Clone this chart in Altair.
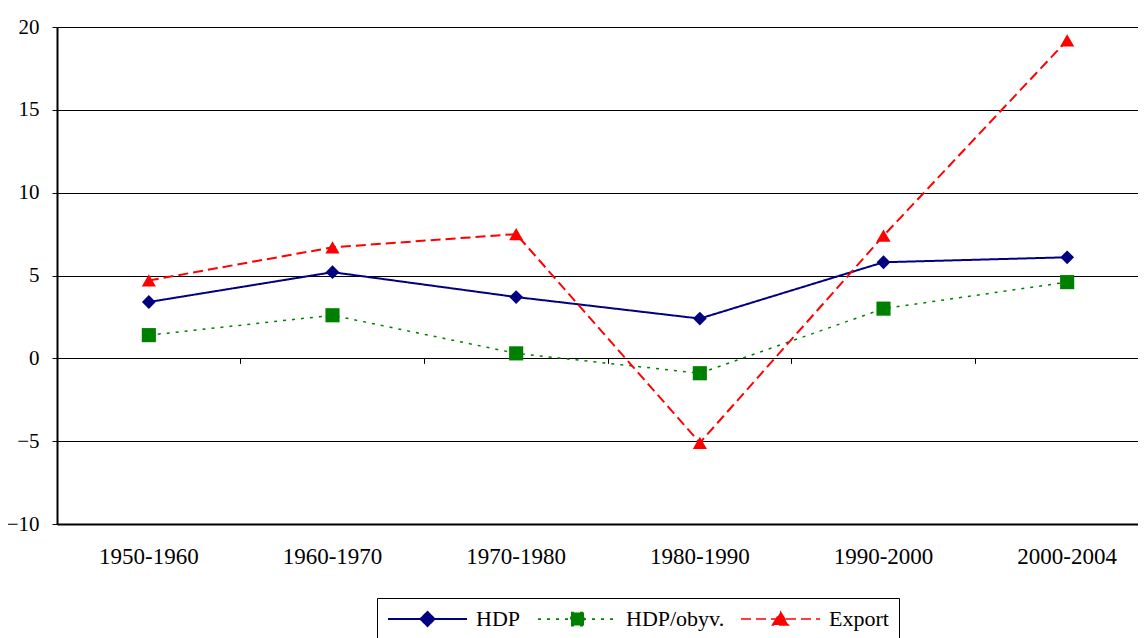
import altair as alt
import pandas as pd

periods = ["1950-1960", "1960-1970", "1970-1980", "1980-1990", "1990-2000", "2000-2004"]
series = ["HDP", "HDP/obyv.", "Export"]
hdp = [3.4, 5.2, 3.7, 2.4, 5.8, 6.1]
hdp_obyv = [1.4, 2.6, 0.3, -0.9, 3.0, 4.6]
export = [4.7, 6.7, 7.5, -5.1, 7.4, 19.2]
y_ticks = [-10, -5, 0, 5, 10, 15, 20]

colors = ["#000080", "#008000", "#FF0000"]
dashes = [[1, 0], [3, 6], [10, 5]]
widths = [2, 1.5, 2]
shapes = ["diamond", "square", "triangle-up"]
sizes = [190, 200, 200]
# legend symbols: a line 79px long with the marker in its middle (unit = 10px)
legend_paths = [
    "M-1,0H6.9M2.25,0L2.95,-0.7L3.65,0L2.95,0.7Z",
    "M-1,0H6.9M2.3,-0.65H3.6V0.65H2.3Z",
    "M-1,0H6.9M2.15,0.6L2.95,-0.7L3.75,0.6Z",
]

rows = []
for name, vals in zip(series, [hdp, hdp_obyv, export]):
    for p, v in zip(periods, vals):
        rows.append({"period": p, "series": name, "value": v})
df = pd.DataFrame(rows)

FONT = "Liberation Serif"
W, H = 1081, 497
FULL_W = 1102
x_scale = alt.Scale(type="band", paddingInner=0, paddingOuter=0, domain=periods, range=[0, FULL_W])

X_main = alt.X(
    "period:N", sort=periods, scale=x_scale, bandPosition=0.5,
    axis=alt.Axis(title=None, labelAngle=0, ticks=False, grid=False, orient="bottom",
                  domainColor="black", domainWidth=2,
                  labelFont=FONT, labelFontSize=23, labelColor="black",
                  labelPadding=21),
)
X_ticks = alt.X(
    "period:N", sort=periods, scale=x_scale, bandPosition=0.5,
    axis=alt.Axis(title=None, labels=False, ticks=True, tickSize=5, orient="bottom",
                  tickColor="black", tickWidth=1, domain=False, grid=False,
                  bandPosition=0, offset=-(H - H * 20 / 30)),
)
Y = alt.Y(
    "value:Q", scale=alt.Scale(domain=[-10, 20], nice=False, zero=False),
    axis=alt.Axis(title=None, values=y_ticks, grid=True, gridColor="black",
                  gridWidth=1, gridOpacity=1, domainColor="black", domainWidth=2,
                  tickColor="black", tickSize=5, tickWidth=1,
                  labelFont=FONT, labelFontSize=21, labelColor="black",
                  labelPadding=13),
)

base = alt.Chart(df)
layers = []
for s, c, d, w in zip(series, colors, dashes, widths):
    layers.append(
        base.transform_filter(alt.datum.series == s)
        .mark_line(color=c, strokeDash=d, strokeWidth=w)
        .encode(x=X_main, y=Y)
    )
for s, c, sh, sz in zip(series, colors, shapes, sizes):
    layers.append(
        base.transform_filter(alt.datum.series == s)
        .mark_point(filled=True, shape=sh, size=sz, color=c, opacity=1)
        .encode(x=X_main, y=Y)
    )
main = alt.layer(*layers)

leg = alt.Legend(
    title=None, orient="none", legendX=320, legendY=571, direction="horizontal",
    columns=3, symbolSize=400, symbolOpacity=1, labelFont=FONT, labelFontSize=22,
    labelColor="black", labelOffset=67, columnPadding=13, padding=10,
    strokeColor="black", fillColor="white", cornerRadius=0,
)
legend_layer = base.mark_point(filled=True, opacity=0).encode(
    x=X_ticks,
    y=Y,
    fill=alt.Fill("series:N", sort=series, scale=alt.Scale(domain=series, range=colors), legend=leg),
    stroke=alt.Stroke("series:N", sort=series, scale=alt.Scale(domain=series, range=colors), legend=leg),
    shape=alt.Shape("series:N", sort=series, scale=alt.Scale(domain=series, range=legend_paths), legend=leg),
    strokeDash=alt.StrokeDash("series:N", sort=series, scale=alt.Scale(domain=series, range=dashes), legend=leg),
    strokeWidth=alt.StrokeWidth("series:N", sort=series, scale=alt.Scale(domain=series, range=widths), legend=leg),
)

chart = (
    alt.layer(main, legend_layer)
    .resolve_axis(x="independent")
    .properties(
        width=W, height=H,
        padding={"left": 49, "top": 19, "right": 0, "bottom": 114},
        autosize=alt.AutoSizeParams(type="none"),
        background="white",
    )
    .configure_view(stroke=None)
)

chart.save("out.html", embed_options={"renderer": "svg", "actions": False})
